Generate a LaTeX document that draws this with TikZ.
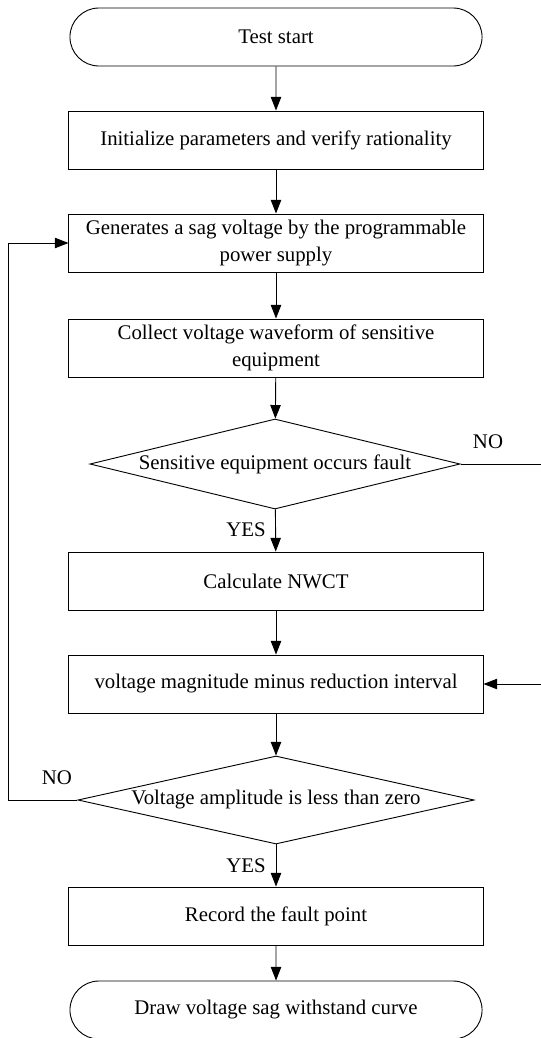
\documentclass[tikz,border=0pt]{standalone}
\usepackage{fontspec}
\setmainfont{Liberation Serif}
\usetikzlibrary{shapes}
\usetikzlibrary{arrows.meta}
\tikzset{
  proc/.style={shape=rectangle,draw,line width=0.65pt,minimum width=10.35cm,minimum height=1.45cm,align=center,inner sep=0pt},
  term/.style={shape=rounded rectangle,draw,line width=0.65pt,minimum width=10.3cm,minimum height=1.45cm,inner sep=0pt},
  decide/.style={shape=diamond,draw,line width=0.65pt,inner sep=0pt},
  lbl/.style={shape=rectangle,inner sep=0pt},
  flow/.style={line width=0.65pt,-{Triangle[length=3.4mm,width=2.6mm]}},
  wire/.style={line width=0.65pt}
}
\newcommand{\txt}{\fontsize{14.8}{19}\selectfont}

\begin{document}
\begin{tikzpicture}[x=0.025cm,y=-0.025cm,font=\txt]
    \useasboundingbox ( 0 , 0 ) rectangle ( 540 , 1038 );
    % start
    \node[term] (start) at ( 276 , 37 ){Test start};
    % steps
    \node[proc] (init) at ( 276 , 140 ){Initialize parameters and verify rationality};
    \node[proc] (gen) at ( 276 , 243 ){Generates a sag voltage by the programmable\\power supply};
    \node[proc] (collect) at ( 276 , 348 ){Collect voltage waveform of sensitive\\equipment};
    % fault check
    \node[decide,minimum width=9.25cm,minimum height=2.25cm,aspect=4.1] (fault) at ( 275 , 464 ){Sensitive equipment occurs fault};
    \node[proc] (nwct) at ( 276 , 581 ){Calculate NWCT};
    \node[proc] (minus) at ( 276 , 684 ){voltage magnitude minus reduction interval};
    % zero check
    \node[decide,minimum width=9.9cm,minimum height=2.2cm,aspect=4.5] (zero) at ( 276 , 800 ){Voltage amplitude is less than zero};
    \node[proc] (record) at ( 276 , 916 ){Record the fault point};
    % end
    \node[term] (finish) at ( 276 , 1010 ){Draw voltage sag withstand curve};
    % labels
    \node[lbl] (no1) at ( 488 , 442 ){NO};
    \node[lbl] (yes1) at ( 246 , 530 ){YES};
    \node[lbl] (no2) at ( 57 , 778 ){NO};
    \node[lbl] (yes2) at ( 246 , 866 ){YES};
    % main line
    \draw[flow] (start) -- (init);
    \draw[flow] (init) -- (gen);
    \draw[flow] (gen) -- (collect);
    \draw[flow] (collect) -- (fault);
    \draw[flow] (fault) -- (nwct);
    \draw[flow] (nwct) -- (minus);
    \draw[flow] (minus) -- (zero);
    \draw[flow] (zero) -- (record);
    \draw[flow] (record) -- (finish);
    % loops
    \coordinate (rgt) at ( 543 , 0 );
    \coordinate (lft) at ( 8 , 0 );
    \draw[flow] (fault.east) -- (fault.east -| rgt) -- (minus.east -| rgt) -- (minus.east);
    \draw[flow] (zero.west) -- (zero.west -| lft) -- (gen.west -| lft) -- (gen.west);
\end{tikzpicture}
\end{document}
